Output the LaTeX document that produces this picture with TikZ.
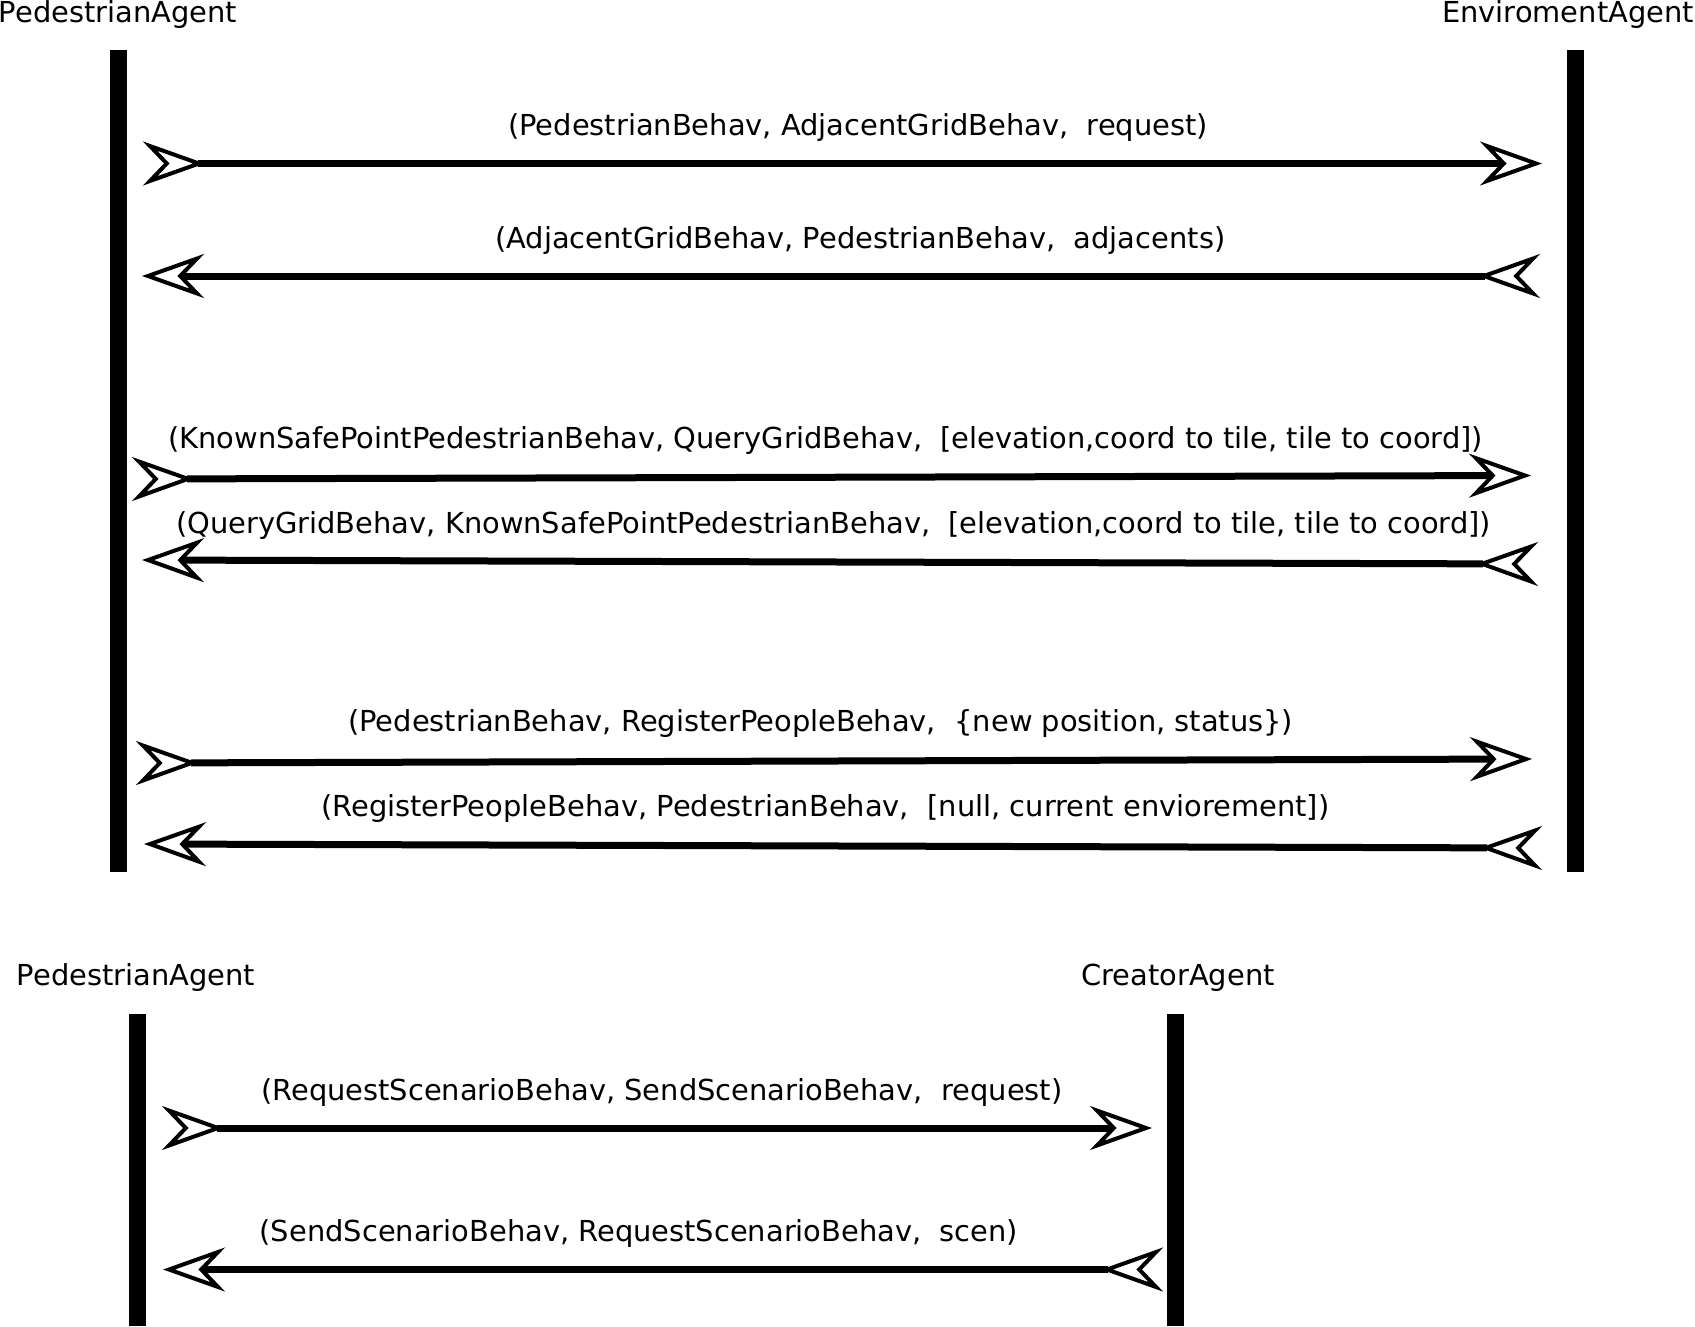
\documentclass[tikz,border=0pt]{standalone}
\usepackage{fontspec}
\setmainfont{DejaVu Sans}
\usetikzlibrary{arrows.meta}
\begin{document}
\begin{tikzpicture}[x=1pt,y=-1pt,
  lifeline/.style={line width=17pt},
  msg/.style={line width=7pt,
    {Stealth[reversed,length=62pt,width=44pt,inset=21pt,line width=4pt,fill=white]}-{Stealth[length=62pt,width=44pt,inset=21pt,line width=4pt,fill=white]}},
  lbl/.style={inner sep=0pt, anchor=base west, font=\fontsize{28.9}{34}\selectfont},
  agent/.style={inner sep=0pt, anchor=base, font=\fontsize{28.9}{34}\selectfont}
]
\useasboundingbox (0,0) rectangle (1695,1326);

% lifelines
\coordinate (pT) at (118,50);   \coordinate (pB) at (118,872);
\coordinate (eT) at (1575.5,50); \coordinate (eB) at (1575.5,872);
\coordinate (qT) at (137,1014); \coordinate (qB) at (137,1326);
\coordinate (cT) at (1175,1014); \coordinate (cB) at (1175,1326);
\draw[lifeline] (pT) -- (pB);
\draw[lifeline] (eT) -- (eB);
\draw[lifeline] (qT) -- (qB);
\draw[lifeline] (cT) -- (cB);

% agent names
\node[agent] (pedA) at (118,22) {PedestrianAgent};
\node[agent] (envA) at (1568,22) {EnviromentAgent};
\node[agent] (pedB) at (136,985) {PedestrianAgent};
\node[agent] (creA) at (1178,985) {CreatorAgent};

% message endpoints
\coordinate (m1a) at (143,163.5);  \coordinate (m1b) at (1542,163.5);
\coordinate (m2a) at (1540,276);   \coordinate (m2b) at (142,276);
\coordinate (m3a) at (132,479);    \coordinate (m3b) at (1531,475.5);
\coordinate (m4a) at (1538,564);   \coordinate (m4b) at (142,560);
\coordinate (m5a) at (136,763);    \coordinate (m5b) at (1532,759);
\coordinate (m6a) at (1542,848);   \coordinate (m6b) at (144,844);
\coordinate (m7a) at (162,1128);   \coordinate (m7b) at (1152,1128);
\coordinate (m8a) at (1163,1269.5); \coordinate (m8b) at (163,1269.5);

\draw[msg] (m1a) -- (m1b);
\draw[msg] (m2a) -- (m2b);
\draw[msg] (m3a) -- (m3b);
\draw[msg] (m4a) -- (m4b);
\draw[msg] (m5a) -- (m5b);
\draw[msg] (m6a) -- (m6b);
\draw[msg] (m7a) -- (m7b);
\draw[msg] (m8a) -- (m8b);

% message labels
\node[lbl] (l1) at (508,135) {(PedestrianBehav, AdjacentGridBehav,\ \ request)};
\node[lbl] (l2) at (495,248) {(AdjacentGridBehav, PedestrianBehav,\ \ adjacents)};
\node[lbl] (l3) at (168,448) {(KnownSafePointPedestrianBehav, QueryGridBehav,\ \ [elevation,coord to tile, tile to coord])};
\node[lbl] (l4) at (176,533) {(QueryGridBehav, KnownSafePointPedestrianBehav,\ \ [elevation,coord to tile, tile to coord])};
\node[lbl] (l5) at (348,731) {(PedestrianBehav, RegisterPeopleBehav,\ \ \{new position, status\})};
\node[lbl] (l6) at (321,816) {(RegisterPeopleBehav, PedestrianBehav,\ \ [null, current enviorement])};
\node[lbl] (l7) at (261,1100) {(RequestScenarioBehav, SendScenarioBehav,\ \ request)};
\node[lbl] (l8) at (259.5,1241) {(SendScenarioBehav, RequestScenarioBehav,\ \ scen)};
\end{tikzpicture}
\end{document}
